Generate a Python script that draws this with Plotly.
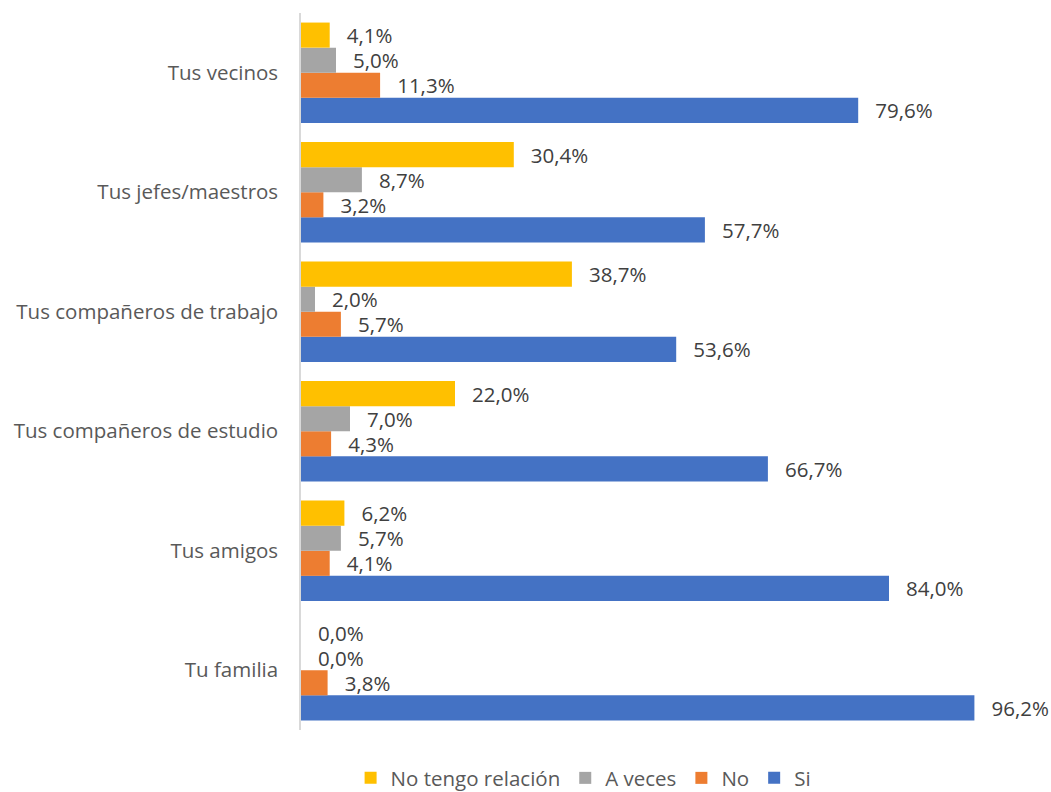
import plotly.graph_objects as go

categories = ["Tu familia", "Tus amigos", "Tus compañeros de estudio",
              "Tus compañeros de trabajo", "Tus jefes/maestros", "Tus vecinos"]
si = [96.2, 84.0, 66.7, 53.6, 57.7, 79.6]
no = [3.8, 4.1, 4.3, 5.7, 3.2, 11.3]
a_veces = [0.0, 5.7, 7.0, 2.0, 8.7, 5.0]
no_relacion = [0.0, 6.2, 22.0, 38.7, 30.4, 4.1]

series = [
    ("Si", si, "#4472C4"),
    ("No", no, "#ED7D31"),
    ("A veces", a_veces, "#A5A5A5"),
    ("No tengo relación", no_relacion, "#FFC000"),
]

def fmt(v):
    return "  \u2009" + f"{v:.1f}%".replace(".", ",")

FONT = "Open Sans"
FS = 20.5

fig = go.Figure()
for name, vals, color in series:
    fig.add_trace(go.Bar(
        y=categories, x=vals, name=name, orientation="h",
        marker=dict(color=color, line=dict(width=0)),
        text=[fmt(v) for v in vals], textposition="outside",
        constraintext="none", cliponaxis=False,
        textfont=dict(size=FS, color="#404040", family=FONT),
    ))

fig.update_layout(
    width=1051, height=792,
    margin=dict(l=301, r=50, t=13, b=62, autoexpand=False),
    barmode="group", bargap=0.16, bargroupgap=0,
    plot_bgcolor="white", paper_bgcolor="white",
    font=dict(family=FONT, size=FS, color="#595959"),
    legend=dict(orientation="h", x=0.403, xanchor="center", y=-0.067, yanchor="middle",
                traceorder="reversed", font=dict(size=FS, color="#595959"),
                itemwidth=30),
    xaxis=dict(range=[0, 100], showgrid=False, showticklabels=False, zeroline=False,
               showline=False, fixedrange=True),
    yaxis=dict(showline=True, linecolor="#D9D9D9", linewidth=1.5, ticks="",
               ticklabelstandoff=17, showgrid=False),
)

fig.write_html("out.html", config={"displayModeBar": False},
               post_script="document.body.style.margin='0';document.body.style.overflow='hidden';")
